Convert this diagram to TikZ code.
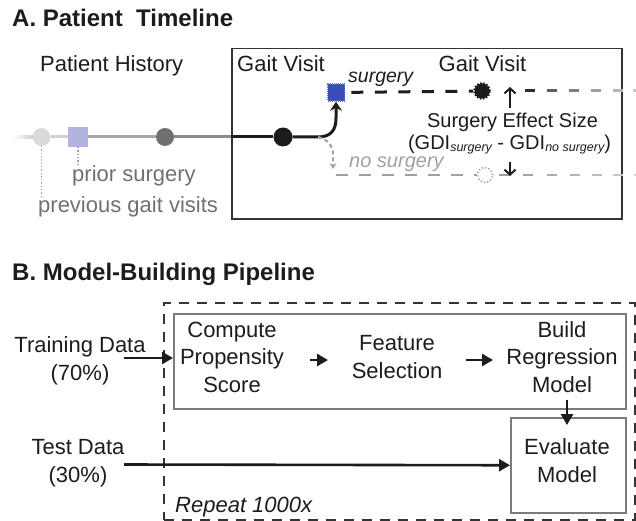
\documentclass[tikz,border=0pt]{standalone}
\usepackage{fontspec}
\setmainfont{Liberation Sans}
\usetikzlibrary{arrows.meta}

\definecolor{ink}{HTML}{1C1C1C}
\definecolor{frame}{HTML}{333333}
\definecolor{boxgray}{HTML}{7C7C7C}
\definecolor{softtext}{HTML}{707070}
\definecolor{ghost}{HTML}{A0A0A0}
\definecolor{visitA}{HTML}{DADADA}
\definecolor{visitB}{HTML}{707070}
\definecolor{visitC}{HTML}{1C1C1C}
\definecolor{priorsq}{HTML}{B3B3E1}
\definecolor{surgfill}{HTML}{3A4DB3}
\definecolor{surgedge}{HTML}{6072D6}
\definecolor{segA}{HTML}{D0D0D0}
\definecolor{segB}{HTML}{A8A8A8}
\definecolor{segC}{HTML}{8C8C8C}

\newcommand\gdisub[1]{\raisebox{-2pt}{\fontsize{12.5}{13}\selectfont\itshape #1}}

\begin{document}
\begin{tikzpicture}[x=1pt,y=-1pt,
  lbl/.style={inner sep=0pt, text=ink, font=\fontsize{22}{27.5}\selectfont, align=center},
  lblsmall/.style={inner sep=0pt, text=ink, font=\fontsize{20}{24}\selectfont},
  heading/.style={inner sep=0pt, text=ink, font=\fontsize{24}{28}\selectfont\bfseries},
  dot/.style={circle, inner sep=0pt, minimum size=18pt},
  tl/.style={line width=3pt},
  guide/.style={draw=ghost, line width=1.2pt, dash pattern=on 1.3pt off 2pt},
  arr/.style={line width=2.6pt, draw=ink, -{Triangle[length=11pt,width=12pt]}},
  thinarr/.style={line width=2pt, draw=ink, -{Straight Barb[length=5pt,width=11pt]}},
  plainbox/.style={draw=boxgray, line width=1.5pt, inner sep=0pt, anchor=north west}]

\useasboundingbox (0,0) rectangle (636,521);

% ---------------- A. Patient timeline ----------------
\node[heading, anchor=base west] (titleA) at (12,27) {A. Patient~~Timeline};

\node[draw=frame, line width=1.5pt, inner sep=0pt, anchor=north west,
      minimum width=390pt, minimum height=170pt] (visitbox) at (231,48) {};

\node[lbl, anchor=base west] (history) at (40,72) {Patient History};
\node[lbl, anchor=base west] (gait1) at (237,72) {Gait Visit};
\node[lbl, anchor=base] (gait2) at (482.5,72) {Gait Visit};

% visits along the timeline
\node[dot, fill=visitA] (v1) at (41.5,137) {};
\node[inner sep=0pt, minimum size=20pt, fill=priorsq] (ps) at (78,137) {};
\node[dot, fill=visitB] (v2) at (165,137) {};
\node[dot, fill=visitC, minimum size=19pt] (v3) at (283,137) {};
\coordinate (edgeA) at (231,137);
\coordinate (bend) at (318,137);

% the surgery decision
\node[inner sep=0pt, minimum size=17pt, fill=surgfill, draw=surgedge,
      line width=1.6pt, dash pattern=on 1pt off 1pt] (surg) at (336,92.5) {};
\node[circle, inner sep=0pt, minimum size=15pt, fill=ink, draw=ink,
      line width=2.6pt, dash pattern=on 1.6pt off 1.4pt] (burst) at (482,91) {};
\node[circle, inner sep=0pt, minimum size=15pt, draw=ghost,
      line width=1.6pt, dash pattern=on 1.2pt off 2.2pt] (nocirc) at (485,175) {};
\coordinate (nostart) at (336,175);

\node[inner sep=0pt, anchor=base west, text=ink, font=\fontsize{19.5}{22}\selectfont\itshape] (surglbl) at (348,83) {surgery};
\node[inner sep=0pt, anchor=base west, text=ghost, font=\fontsize{20}{22}\selectfont\itshape] (nosurglbl) at (349,168) {no surgery};

\node[lblsmall, anchor=base] (effect) at (512.5,128) {Surgery Effect Size};
\node[lblsmall, anchor=base] (gdi) at (509.5,150)
  {(GDI\gdisub{surgery} - GDI\gdisub{no surgery})};

% history notes
\node[lbl, anchor=base west, text=softtext] (priorlbl) at (72,182) {prior surgery};
\node[lbl, anchor=base west, text=softtext] (prevlbl) at (38,212) {previous gait visits};
\coordinate (v1foot) at (41.5,196);
\coordinate (psfoot) at (78,165);
\draw[guide] (v1) -- (v1foot);
\draw[guide] (ps) -- (psfoot);

% timeline, darkening towards the present
\shade[left color=white, right color=segA] (12,135.5) rectangle (33,138.5);
\draw[tl, segA] (v1) -- (ps);
\draw[tl, segB] (ps) -- (v2);
\draw[tl, segC] (v2) -- (edgeA);
\draw[tl, ink] (edgeA) -- (v3);
\draw[tl, ink, -{Stealth[length=9pt,width=12pt,inset=3pt]}]
  (v3) -- (bend) .. controls (331,137) and (336,130) .. (336,118) -- (surg);
\draw[ghost, line width=2pt, dash pattern=on 4pt off 3pt,
      -{Stealth[length=6pt,width=7pt,inset=2pt]}]
  (bend) .. controls (327,139) and (333,145) .. (333,155) -- (333,169);

% outcome lines
\draw[ink, line width=3pt, dash pattern=on 12pt off 11.5pt, shorten <=6pt] (surg) -- (burst);
\foreach \x/\p in {525/82, 547/64, 569/50, 591/38, 613/29, 633/21}
  \draw[black!\p, line width=3pt] (\x,91) -- ({min(\x+10,636)},91);
\draw[ghost, line width=2.6pt, dash pattern=on 12pt off 11pt] (nostart) -- (nocirc);
\foreach \x/\p in {499/38, 523/36, 547/33, 570/29, 592/26, 613/22, 634/18}
  \draw[black!\p, line width=2.6pt] (\x,175) -- ({min(\x+10,636)},175);

% effect size arrows
\coordinate (upfrom) at (510,108);
\coordinate (upto) at (510,87);
\coordinate (downfrom) at (510,162);
\coordinate (downto) at (510,176);
\draw[thinarr] (upfrom) -- (upto);
\draw[thinarr] (downfrom) -- (downto);

% ---------------- B. Model-building pipeline ----------------
\node[heading, anchor=base west] (titleB) at (12,280) {B. Model-Building Pipeline};

\node[draw=frame, line width=2pt, dash pattern=on 10pt off 8pt, inner sep=0pt,
      anchor=north west, minimum width=471pt, minimum height=217pt] (loop) at (163,302) {};
\node[plainbox, minimum width=452pt, minimum height=95pt] (pipe) at (173,313) {};
\node[plainbox, minimum width=115pt, minimum height=95pt] (eval) at (510,417) {};

% multi-line labels: the base anchor sits on the last line
\node[lbl, anchor=base] (compute) at (232,392) {Compute\\Propensity\\Score};
\node[lbl, anchor=base] (feature) at (397,378) {Feature\\Selection};
\node[lbl, anchor=base] (build) at (562,392) {Build\\Regression\\Model};
\node[lbl, anchor=base] (evaltxt) at (567,482) {Evaluate\\Model};
\node[lbl, anchor=base] (train) at (80,380) {Training Data\\(70\%)};
\node[lbl, anchor=base] (test) at (78,482) {Test Data\\(30\%)};
\node[inner sep=0pt, anchor=base west, text=ink, font=\fontsize{22}{26}\selectfont\itshape] (repeat) at (175,512) {Repeat 1000x};

\coordinate (trainfrom) at (124,358);
\coordinate (testfrom) at (124,464.5);
\coordinate (a1from) at (310,360);
\coordinate (a1to) at (328,360);
\coordinate (a2from) at (466,360);
\coordinate (a2to) at (493,360);
\coordinate (downB) at (567,400);
\coordinate (downBto) at (567,425);

\draw[arr] (trainfrom) -- (trainfrom -| pipe.west);
\draw[arr] (a1from) -- (a1to);
\draw[arr] (a2from) -- (a2to);
\draw[arr] (downB) -- (downBto);
\draw[arr] (testfrom) -- (eval.west);

\end{tikzpicture}
\end{document}
